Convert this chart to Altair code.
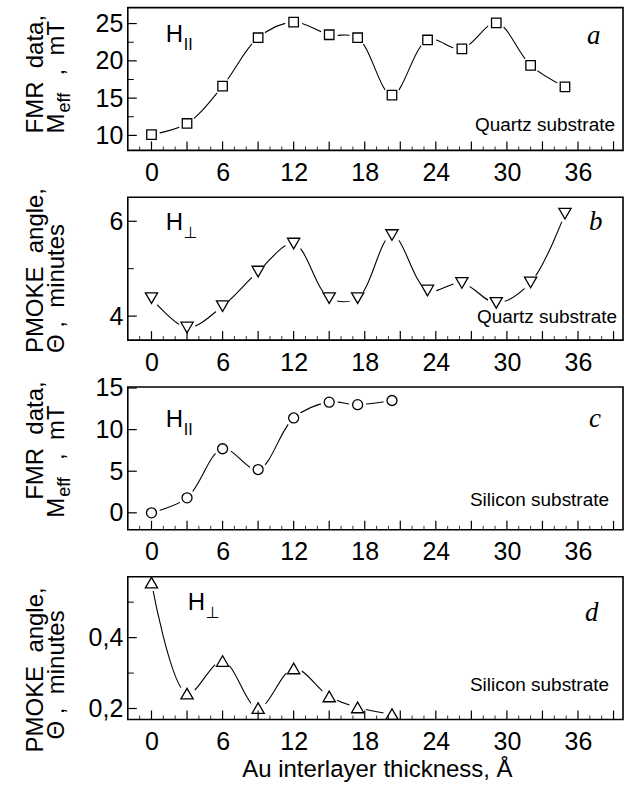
import altair as alt
import pandas as pd

# ---------------- data ----------------
x_quartz = [0, 3, 6, 9, 12, 15, 17.4, 20.3, 23.3, 26.2, 29.1, 32.0, 34.9]
fmr_quartz = [10.1, 11.6, 16.6, 23.1, 25.2, 23.5, 23.1, 15.4, 22.8, 21.6, 25.1, 19.4, 16.5]
pmoke_quartz = [4.38, 3.76, 4.21, 4.94, 5.53, 4.38, 4.38, 5.71, 4.54, 4.70, 4.28, 4.71, 6.16]

x_silicon = [0, 3, 6, 9, 12, 15, 17.4, 20.3]
fmr_silicon = [0.0, 1.8, 7.7, 5.2, 11.4, 13.3, 13.0, 13.5]
pmoke_silicon = [0.555, 0.242, 0.334, 0.201, 0.313, 0.234, 0.203, 0.184]

x_tick_labels = [0, 6, 12, 18, 24, 30, 36]
x_major_ticks = [0, 3, 6, 9, 12, 15, 18, 21, 24, 27, 30, 33, 36, 39]
x_minor_ticks = [-1, 1, 2, 4, 5, 7, 8, 10, 11, 13, 14, 16, 17, 19, 20, 22, 23,
                 25, 26, 28, 29, 31, 32, 34, 35, 37, 38]

ya_labels = [10, 15, 20, 25]
ya_minor = [12.5, 17.5, 22.5]
yb_labels = [4, 6]
yb_minor = [5]
yc_labels = [0, 5, 10, 15]
yc_minor = []
yd_labels = [0.2, 0.4]
yd_minor = [0.3, 0.5]

# ---------------- layout constants ----------------
W, H = 496, 143
FONT = "Liberation Sans, Arial, DejaVu Sans"
SERIF = "Liberation Serif, Times New Roman, DejaVu Serif"
X_DOMAIN = [-2.0, 39.8]
NB = "\u00a0"


def txt(s, x, y, size, font=FONT, angle=0, align="left", style="normal"):
    mk = dict(font=font, fontSize=size, align=align, baseline="alphabetic",
              color="black", fontStyle=style)
    if angle:
        mk["angle"] = angle
    return alt.Chart(alt.Data(values=[{"t": s}])).mark_text(**mk).encode(
        text="t:N", x=alt.value(x), y=alt.value(y))


def panel(xs, ys, shape, size, ydom, ylabels, yminor, fmt, texts):
    df = pd.DataFrame({"x": xs, "y": ys})
    xscale = alt.Scale(domain=X_DOMAIN, nice=False, zero=False)
    yscale = alt.Scale(domain=ydom, nice=False, zero=False)
    xaxis = alt.Axis(values=x_tick_labels, title=None, grid=False, ticks=False,
                     domain=False, labelFontSize=25, labelFont=FONT,
                     labelColor="black", labelPadding=10, labelOverlap=False,
                     labelFlush=False)
    ykw = dict(values=ylabels, title=None, grid=False, ticks=False, domain=False,
               labelFontSize=25, labelFont=FONT, labelColor="black",
               labelPadding=5, labelOverlap=False, labelFlush=False)
    if fmt == "comma":
        ykw["format"] = ".1f"
        ykw["labelExpr"] = "replace(datum.label, '.', ',')"
    yaxis = alt.Axis(**ykw)

    X = alt.X("x:Q", scale=xscale, axis=xaxis)
    Y = alt.Y("y:Q", scale=yscale, axis=yaxis)

    base = alt.Chart(df)
    line = base.mark_line(interpolate="catmull-rom", color="black",
                          strokeWidth=1.1).encode(x=X, y=Y)
    halo = base.mark_point(shape="circle", filled=True, color="white",
                           opacity=1, size=300).encode(x=X, y=Y)
    pts = base.mark_point(shape=shape, filled=True, fill="white", stroke="black",
                          strokeWidth=1.3, opacity=1, size=size).encode(x=X, y=Y)

    xmaj = alt.Chart(pd.DataFrame({"x": x_major_ticks})).mark_rule(
        color="black", strokeWidth=1.2).encode(
        x=X, y=alt.value(H), y2=alt.value(H - 9))
    xmin = alt.Chart(pd.DataFrame({"x": x_minor_ticks})).mark_rule(
        color="black", strokeWidth=0.8).encode(
        x=X, y=alt.value(H), y2=alt.value(H - 4))
    ymaj = alt.Chart(pd.DataFrame({"y": ylabels})).mark_rule(
        color="black", strokeWidth=1.2).encode(
        y=Y, x=alt.value(0), x2=alt.value(9))
    layers = [line, halo, pts, xmaj, xmin, ymaj]
    if yminor:
        ymin = alt.Chart(pd.DataFrame({"y": yminor})).mark_rule(
            color="black", strokeWidth=1.0).encode(
            y=Y, x=alt.value(0), x2=alt.value(6))
        layers.append(ymin)
    frame = alt.Chart(alt.Data(values=[{"a": 1}])).mark_rect(
        filled=False, stroke="black", strokeWidth=1.6).encode(
        x=alt.value(0), x2=alt.value(W), y=alt.value(0), y2=alt.value(H))
    layers.append(frame)
    layers.extend(texts)
    return alt.layer(*layers).properties(width=W, height=H)


def ytitle_meff(start1, start2):
    return [
        txt("FMR" + NB + " data,", -85, start1, 24, angle=270),
        txt("M", -64, start2, 24, angle=270),
        txt("eff", -58, start2 - 21, 18, angle=270),
        txt("," + NB + " mT", -64, start2 - 58, 24, angle=270),
    ]


def ytitle_theta(start1, start2):
    return [
        txt("PMOKE" + NB + " angle,", -85, start1, 24, angle=270),
        txt("\u0398 ," + NB + " minutes", -64, start2, 24, angle=270),
    ]


def h_par(x, y):
    return [txt("H", x, y, 24), txt("II", x + 18, y + 8, 16)]


def h_perp(x, y):
    return [txt("H", x, y, 24), txt("\u22a5", x + 18, y + 8, 16)]


pa = panel(x_quartz, fmr_quartz, "square", 90, [7.99, 27.14], ya_labels, ya_minor, None,
           ytitle_meff(126, 126) + h_par(38, 34) +
           [txt("a", 460, 36, 27, font=SERIF, style="italic"),
            txt("Quartz substrate", 488, 124, 19, align="right")])

pb = panel(x_quartz, pmoke_quartz, "triangle-down", 150, [3.495, 6.505], yb_labels, yb_minor, None,
           ytitle_theta(156, 156) + h_perp(38, 33) +
           [txt("b", 462, 33, 27, font=SERIF, style="italic"),
            txt("Quartz substrate", 490, 126, 19, align="right")])

pc = panel(x_silicon, fmr_silicon, "circle", 100, [-2.04, 15.12], yc_labels, yc_minor, None,
           ytitle_meff(113, 131) + h_par(38, 40) +
           [txt("c", 462, 40, 27, font=SERIF, style="italic"),
            txt("Silicon substrate", 482, 119, 19, align="right")])

pd_ = panel(x_silicon, pmoke_silicon, "triangle-up", 150, [0.169, 0.5718], yd_labels, yd_minor, "comma",
            ytitle_theta(176, 163) + h_perp(60, 33) +
            [txt("d", 458, 44, 27, font=SERIF, style="italic"),
             txt("Silicon substrate", 482, 114, 19, align="right"),
             txt("Au interlayer thickness, \u00c5", 250, 201, 24, align="center")])

chart = alt.vconcat(pa, pb, pc, pd_, spacing=47, bounds="flush").properties(
    padding={"left": 23, "top": 6, "right": 8, "bottom": 6}
).configure_view(strokeWidth=0)

chart.save("out.html", embed_options={"renderer": "svg", "actions": False})
